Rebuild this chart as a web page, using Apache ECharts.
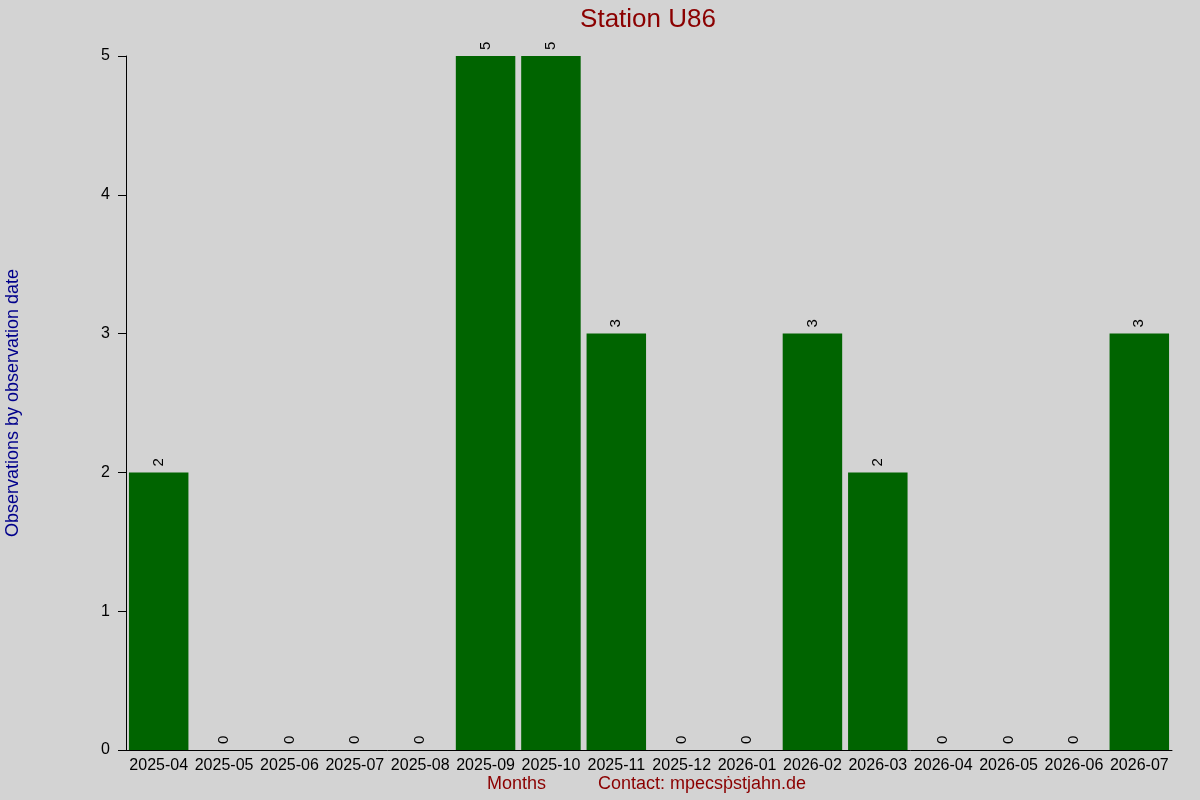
<!DOCTYPE html>
<html>
<head>
<meta charset="utf-8">
<script src="https://cdn.jsdelivr.net/npm/echarts@6/dist/echarts.min.js"></script>
<style>
html,body{margin:0;padding:0;background:#d3d3d3;}
#main{width:1200px;height:800px;}
</style>
</head>
<body>
<div id="main"></div>
<script>
var months = ['2025-04','2025-05','2025-06','2025-07','2025-08','2025-09','2025-10','2025-11',
              '2025-12','2026-01','2026-02','2026-03','2026-04','2026-05','2026-06','2026-07'];
var counts = [2,0,0,0,0,5,5,3,0,0,3,2,0,0,0,3];
var yTicks = [0,1,2,3,4,5];

var chart = echarts.init(document.getElementById('main'));

var option = {
    backgroundColor: '#d3d3d3',
    animation: false,
    textStyle: { fontFamily: 'Liberation Sans, Arial, sans-serif' },
    title: {
        text: 'Station U86',
        left: 643,
        textAlign: 'center',
        top: 2,
        textStyle: { color: '#8b0000', fontSize: 26, fontWeight: 'normal' }
    },
    grid: { left: 126, right: 28, top: 56, bottom: 50, containLabel: false, outerBoundsMode: 'none' },
    graphic: [
        {
            type: 'text', left: 487, top: 775,
            style: { text: 'Months', fill: '#8b0000', font: '18px Liberation Sans, Arial, sans-serif' }
        },
        {
            type: 'text', left: 598, top: 775,
            style: { text: 'Contact: mpecsṗstjahn.de', fill: '#8b0000', font: '18px Liberation Sans, Arial, sans-serif' }
        }
    ],
    xAxis: {
        type: 'category',
        data: months,
        axisLine: { lineStyle: { color: '#000', width: 1 } },
        axisTick: { show: false },
        axisLabel: { color: '#000', fontSize: 16, margin: 8, interval: 0 },
        splitLine: { show: false }
    },
    yAxis: {
        type: 'value',
        min: yTicks[0],
        max: yTicks[yTicks.length - 1],
        interval: 1,
        name: 'Observations by observation date',
        nameLocation: 'middle',
        nameGap: 104,
        nameTextStyle: { color: '#00008b', fontSize: 18 },
        axisLine: { show: true, lineStyle: { color: '#000', width: 1 } },
        axisTick: { show: true, length: 8, lineStyle: { color: '#000' } },
        axisLabel: { color: '#000', fontSize: 16, margin: 16 },
        splitLine: { show: false }
    },
    series: [{
        type: 'bar',
        data: counts,
        barCategoryGap: '9%',
        itemStyle: { color: '#006400' },
        label: {
            show: true,
            position: 'top',
            rotate: 90,
            align: 'left',
            verticalAlign: 'middle',
            distance: 5,
            offset: [1, 0],
            color: '#000',
            fontSize: 15
        }
    }]
};
chart.setOption(option);
</script>
</body>
</html>
